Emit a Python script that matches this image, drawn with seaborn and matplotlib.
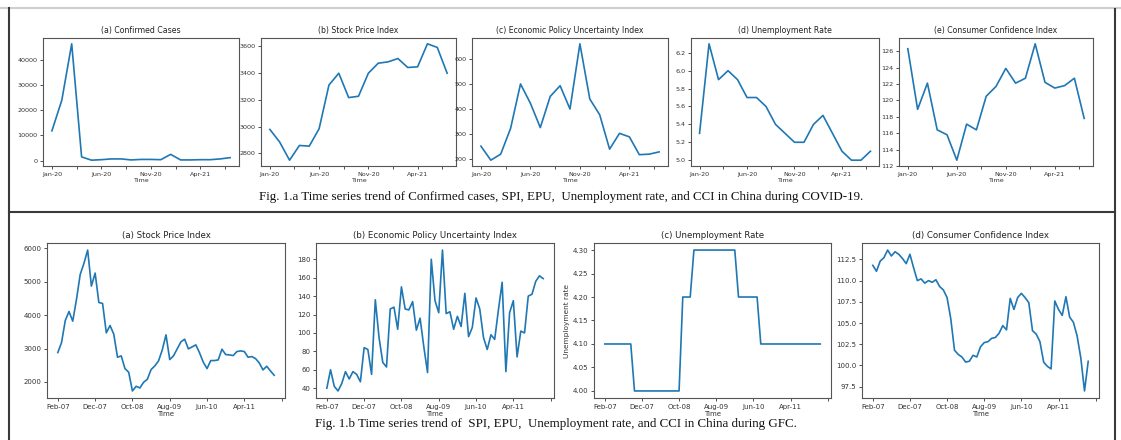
import numpy as np
import pandas as pd
import matplotlib
matplotlib.use("Agg")
import matplotlib.pyplot as plt
from matplotlib.lines import Line2D
from matplotlib.ticker import MultipleLocator, FuncFormatter, FormatStrFormatter
import seaborn as sns

# ---- COVID-19 period, monthly from Jan-2020 ----
covid_start = "2020-01"
confirmed_cases = [11800, 23900, 46200, 1500, 200, 400, 700, 700, 300, 500,
                   500, 400, 2500, 300, 300, 400, 400, 700, 1200]
spi_covid = [2980, 2885, 2750, 2860, 2855, 2985, 3312, 3400, 3218, 3228,
             3400, 3475, 3485, 3510, 3443, 3448, 3620, 3593, 3400]
epu_covid = [252, 196, 220, 323, 500, 423, 326, 450, 493, 400,
             660, 440, 377, 240, 303, 289, 218, 220, 229]
unemp_covid = [5.3, 6.3, 5.9, 6.0, 5.9, 5.7, 5.7, 5.6, 5.4, 5.3,
               5.2, 5.2, 5.4, 5.5, 5.3, 5.1, 5.0, 5.0, 5.1]
cci_covid = [126.3, 118.9, 122.1, 116.4, 115.8, 112.7, 117.1, 116.4, 120.5, 121.7,
             123.9, 122.1, 122.7, 126.9, 122.2, 121.5, 121.8, 122.7, 117.8]

# ---- GFC period, monthly from Feb-2007 ----
gfc_start = "2007-02"
spi_gfc = [2880, 3180, 3840, 4110, 3820, 4470, 5220, 5550, 5950, 4870,
           5260, 4380, 4350, 3470, 3690, 3430, 2740, 2780, 2400, 2290,
           1730, 1870, 1820, 1990, 2080, 2370, 2480, 2630, 2960, 3410,
           2670, 2780, 2990, 3200, 3280, 2990, 3050, 3110, 2870, 2590,
           2400, 2640, 2640, 2660, 2980, 2820, 2810, 2790, 2910, 2930,
           2910, 2740, 2760, 2700, 2570, 2360, 2470, 2330, 2200]
epu_gfc = [40, 60, 42, 37, 45, 58, 50, 58, 55, 47,
           84, 82, 55, 136, 95, 68, 63, 126, 128, 104,
           150, 126, 125, 134, 103, 116, 85, 57, 180, 135,
           122, 190, 121, 123, 104, 118, 107, 143, 96, 106,
           138, 126, 95, 82, 98, 93, 125, 155, 58, 122,
           135, 74, 102, 100, 140, 142, 156, 162, 159]
unemp_gfc = [4.1, 4.1, 4.1, 4.1, 4.1, 4.1, 4.1, 4.1, 4.0, 4.0,
             4.0, 4.0, 4.0, 4.0, 4.0, 4.0, 4.0, 4.0, 4.0, 4.0,
             4.0, 4.2, 4.2, 4.2, 4.3, 4.3, 4.3, 4.3, 4.3, 4.3,
             4.3, 4.3, 4.3, 4.3, 4.3, 4.3, 4.2, 4.2, 4.2, 4.2,
             4.2, 4.2, 4.1, 4.1, 4.1, 4.1, 4.1, 4.1, 4.1, 4.1,
             4.1, 4.1, 4.1, 4.1, 4.1, 4.1, 4.1, 4.1, 4.1]
cci_gfc = [111.8, 111.1, 112.3, 112.7, 113.6, 112.9, 113.4, 113.1, 112.6, 112.0,
           113.1, 111.5, 110.0, 110.2, 109.7, 110.0, 109.8, 110.1, 109.3, 108.9,
           108.0, 105.5, 101.8, 101.3, 101.0, 100.4, 100.5, 101.2, 101.0, 102.2,
           102.7, 102.8, 103.2, 103.3, 103.8, 104.7, 104.2, 107.9, 106.6, 108.0,
           108.5, 108.0, 107.4, 104.1, 103.7, 102.8, 100.4, 99.9, 99.6, 107.6,
           106.6, 105.9, 108.1, 105.7, 105.1, 103.5, 100.9, 97.0, 100.5]

covid_titles = ["(a) Confirmed Cases", "(b) Stock Price Index",
                "(c) Economic Policy Uncertainty Index", "(d) Unemployment Rate",
                "(e) Consumer Confidence Index"]
gfc_titles = ["(a) Stock Price Index", "(b) Economic Policy Uncertainty Index",
              "(c) Unemployment Rate", "(d) Consumer Confidence Index"]
caption_a = ("Fig. 1.a Time series trend of Confirmed cases, SPI, EPU,  "
             "Unemployment rate, and CCI in China during COVID-19.")
caption_b = ("Fig. 1.b Time series trend of  SPI, EPU,  Unemployment rate, "
             "and CCI in China during GFC.")

W, H = 1121, 440
LINE = "#1f77b4"
SPINE = "#555555"

fig = plt.figure(figsize=(W / 100, H / 100), dpi=100)
fig.patch.set_facecolor("white")


def px_axes(l, t, r, b):
    return fig.add_axes([l / W, 1 - b / H, (r - l) / W, (b - t) / H])


def month_formatter(labels):
    def fmt(x, pos):
        k = int(round(x))
        if abs(x - k) < 1e-6 and 0 <= k < len(labels):
            return labels[k]
        return ""
    return FuncFormatter(fmt)


def draw_panel(ax, values, start, title, xstep, ystep, yfmt, tick_fs, title_fs, ylabel=""):
    months = pd.period_range(start, periods=len(values), freq="M")
    df = pd.DataFrame({"t": np.arange(len(values)), "v": values})
    sns.lineplot(data=df, x="t", y="v", ax=ax, color=LINE, linewidth=1.2)
    ax.xaxis.set_major_locator(MultipleLocator(xstep))
    ax.xaxis.set_major_formatter(month_formatter(list(months.strftime("%b-%y"))))
    ax.yaxis.set_major_locator(MultipleLocator(ystep))
    if yfmt:
        ax.yaxis.set_major_formatter(FormatStrFormatter(yfmt))
    ax.set_title(title, fontsize=title_fs, pad=3.5, color="#222222")
    ax.set_xlabel("Time", fontsize=tick_fs, labelpad=1, color="#333333")
    ax.set_ylabel(ylabel, fontsize=tick_fs + 0.3, labelpad=2, color="#333333")
    ax.tick_params(labelsize=tick_fs, length=2.5, width=0.6, pad=1.5,
                   colors="#333333")
    for s in ax.spines.values():
        s.set_color(SPINE)
        s.set_linewidth(0.8)


# Top row: COVID-19
top_boxes = [(43, 38, 239, 166), (261, 38, 456, 166), (472, 38, 668, 166),
             (691, 38, 879, 166), (899, 38, 1093, 166)]
top_series = [confirmed_cases, spi_covid, epu_covid, unemp_covid, cci_covid]
top_ysteps = [10000, 200, 100, 0.2, 2]
top_yfmts = [None, None, None, "%.1f", None]
for box, vals, title, ys, yf in zip(top_boxes, top_series, covid_titles,
                                     top_ysteps, top_yfmts):
    draw_panel(px_axes(*box), vals, covid_start, title, 2.5, ys, yf, 4.6, 5.6)

# Bottom row: GFC
bot_boxes = [(47, 243, 285, 398), (316, 243, 554, 398),
             (594, 243, 831, 398), (862, 243, 1099, 398)]
bot_series = [spi_gfc, epu_gfc, unemp_gfc, cci_gfc]
bot_ysteps = [1000, 20, 0.05, 2.5]
bot_yfmts = [None, None, "%.2f", "%.1f"]
bot_ylabels = ["", "", "Unemployment rate", ""]
for box, vals, title, ys, yf, yl in zip(bot_boxes, bot_series, gfc_titles,
                                         bot_ysteps, bot_yfmts, bot_ylabels):
    draw_panel(px_axes(*box), vals, gfc_start, title, 10, ys, yf, 5.0, 6.2, yl)

# Captions
fig.text(561 / W, 1 - 197 / H, caption_a, ha="center", va="center",
         family="Liberation Serif", fontsize=9.4, color="#111111")
fig.text(556 / W, 1 - 424 / H, caption_b, ha="center", va="center",
         family="Liberation Serif", fontsize=9.4, color="#111111")

# Frame lines around the two figure blocks
def hline(y, x0, x1, color, lw):
    fig.add_artist(Line2D([x0 / W, x1 / W], [1 - y / H, 1 - y / H],
                          color=color, linewidth=lw, transform=fig.transFigure))


def vline(x, y0, y1, color, lw):
    fig.add_artist(Line2D([x / W, x / W], [1 - y0 / H, 1 - y1 / H],
                          color=color, linewidth=lw, transform=fig.transFigure))


hline(8, 0, W, "#cfcfcf", 1.5)
vline(9, 8, H, "#3a3a3a", 1.5)
vline(1115, 9, H, "#3a3a3a", 1.5)
hline(212, 9, 1115, "#3a3a3a", 1.5)

fig.savefig("out.png", dpi=100, facecolor="white")
